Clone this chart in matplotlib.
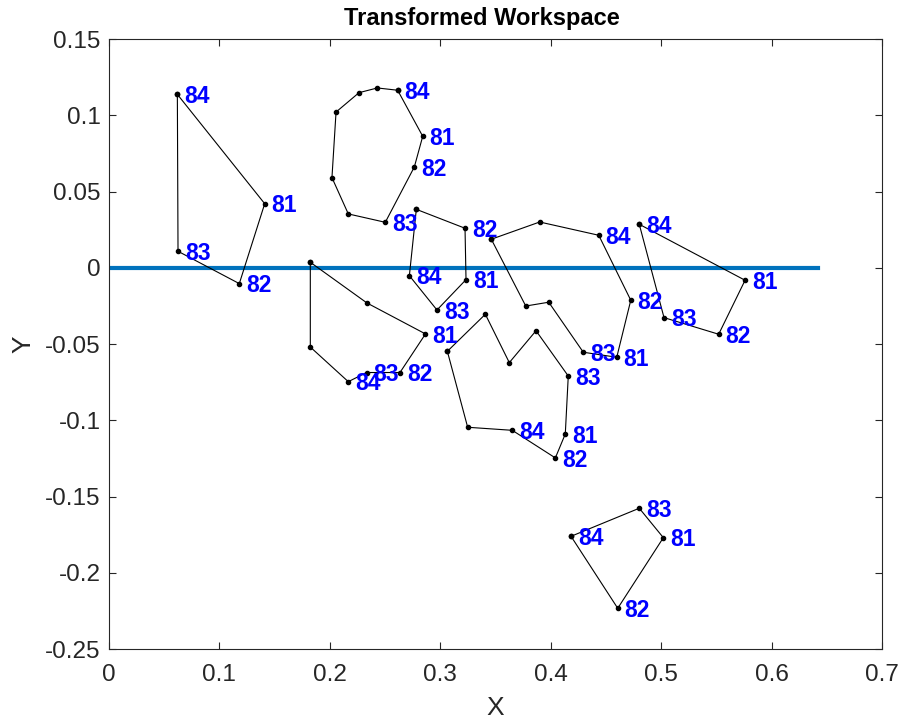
import matplotlib
matplotlib.use("Agg")
import matplotlib.pyplot as plt
from matplotlib.ticker import FuncFormatter

plt.rcParams['font.family'] = ['Liberation Sans', 'DejaVu Sans']
plt.rcParams['axes.unicode_minus'] = False

# Polygons (closed), vertex labels (None = unlabeled)
poly1_x = [0.0619, 0.1410, 0.1180, 0.0625]
poly1_y = [0.1137, 0.0420, -0.0104, 0.0108]
poly1_labels = ['84', '81', '82', '83']

poly2_x = [0.2614, 0.2841, 0.2765, 0.2502, 0.2167, 0.2019, 0.2056, 0.2264, 0.2430]
poly2_y = [0.1164, 0.0862, 0.0661, 0.0298, 0.0353, 0.0591, 0.1021, 0.1148, 0.1179]
poly2_labels = ['84', '81', '82', '83', None, None, None, None, None]

poly3_x = [0.2783, 0.3224, 0.3233, 0.2970, 0.2720]
poly3_y = [0.0383, 0.0259, -0.0078, -0.0277, -0.0052]
poly3_labels = [None, '82', '81', '83', '84']

poly4_x = [0.1823, 0.2336, 0.2866, 0.2635, 0.2332, 0.2167, 0.1823]
poly4_y = [0.0036, -0.0231, -0.0434, -0.0687, -0.0687, -0.0747, -0.0520]
poly4_labels = [None, None, '81', '82', '83', '84', None]

poly5_x = [0.3462, 0.3900, 0.4435, 0.4725, 0.4598, 0.4295, 0.3982, 0.3774]
poly5_y = [0.0187, 0.0300, 0.0213, -0.0213, -0.0587, -0.0554, -0.0226, -0.0251]
poly5_labels = [None, None, '84', '82', '81', '83', None, None]

poly6_x = [0.4802, 0.5760, 0.5521, 0.5026]
poly6_y = [0.0285, -0.0082, -0.0436, -0.0327]
poly6_labels = ['84', '81', '82', '83']

poly7_x = [0.3064, 0.3408, 0.3625, 0.3867, 0.4159, 0.4132, 0.4042, 0.3652, 0.3248]
poly7_y = [-0.0548, -0.0305, -0.0622, -0.0413, -0.0710, -0.1090, -0.1247, -0.1066, -0.1046]
poly7_labels = [None, None, None, None, '83', '81', '82', '84', None]

poly8_x = [0.4184, 0.4802, 0.5020, 0.4607]
poly8_y = [-0.1761, -0.1577, -0.1770, -0.2233]
poly8_labels = ['84', '83', '81', '82']

line_x = [0.0, 0.642]
line_y = [0.0, 0.0]

x_ticks = [0, 0.1, 0.2, 0.3, 0.4, 0.5, 0.6, 0.7]
y_ticks = [-0.25, -0.2, -0.15, -0.1, -0.05, 0, 0.05, 0.1, 0.15]

polys = [
    (poly1_x, poly1_y, poly1_labels),
    (poly2_x, poly2_y, poly2_labels),
    (poly3_x, poly3_y, poly3_labels),
    (poly4_x, poly4_y, poly4_labels),
    (poly5_x, poly5_y, poly5_labels),
    (poly6_x, poly6_y, poly6_labels),
    (poly7_x, poly7_y, poly7_labels),
    (poly8_x, poly8_y, poly8_labels),
]

fig = plt.figure(figsize=(8.99, 7.21), dpi=100)
ax = fig.add_axes([109/899, 1-649/721, (882-109)/899, (649-39)/721])

for px, py, labs in polys:
    ax.plot(px + px[:1], py + py[:1], color='black', linewidth=0.8,
            marker='o', markersize=3, markerfacecolor='black',
            markeredgecolor='black', zorder=3)
    for x, y, lab in zip(px, py, labs):
        if lab is not None:
            ax.annotate(lab, (x, y), xytext=(5, -1.5), textcoords='offset points',
                        ha='left', va='center', color='#0000FF',
                        fontsize=16.5, fontweight='bold', zorder=4)

ax.plot(line_x, line_y, color='#0072BD', linewidth=3, zorder=2)

ax.set_xlim(0, 0.7)
ax.set_ylim(-0.25, 0.15)
ax.set_xticks(x_ticks)
ax.set_yticks(y_ticks)
fmt = FuncFormatter(lambda v, p: ('%g' % round(v, 4)))
ax.xaxis.set_major_formatter(fmt)
ax.yaxis.set_major_formatter(fmt)
ax.tick_params(direction='in', length=5, width=0.8, top=True, right=True,
               labelsize=17.5, colors='#262626')
ax.tick_params(axis='x', pad=11)
ax.tick_params(axis='y', pad=6)
for s in ax.spines.values():
    s.set_color('#262626')
    s.set_linewidth(0.8)

ax.set_title('Transformed Workspace', fontsize=17, fontweight='bold',
             x=0.482, pad=10)
ax.set_xlabel('X', fontsize=19, color='#262626', labelpad=7)
ax.set_ylabel('Y', fontsize=19, color='#262626', labelpad=7)

fig.savefig('out.png', dpi=100)
